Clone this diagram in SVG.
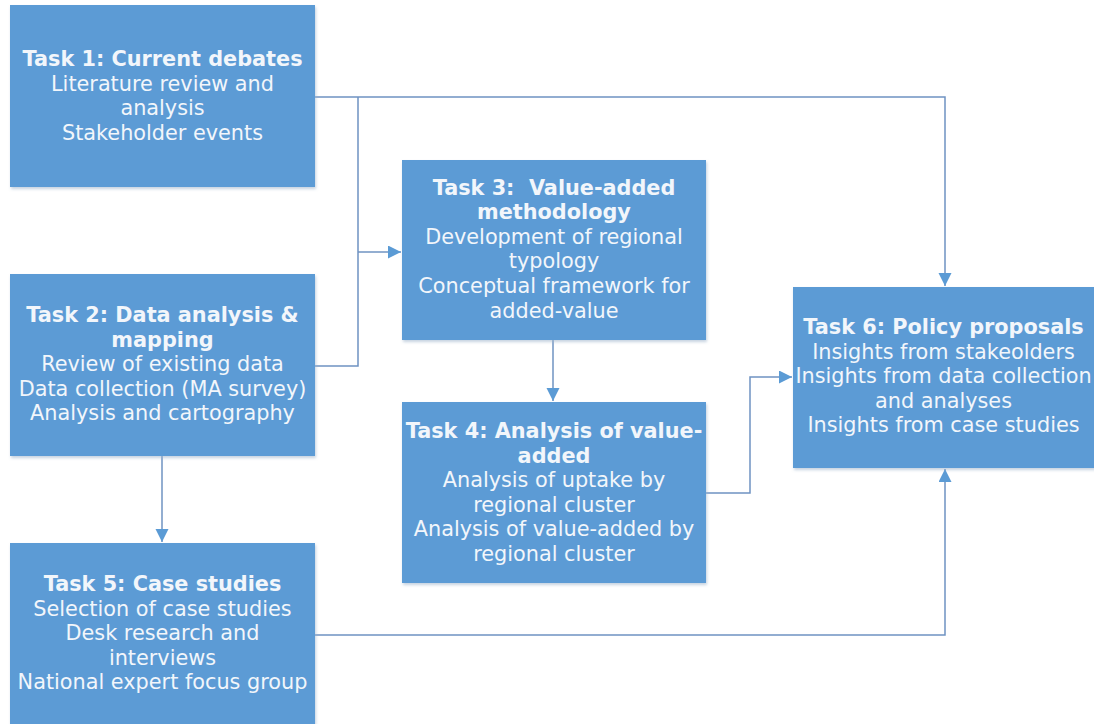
<svg xmlns="http://www.w3.org/2000/svg" width="1094" height="724" viewBox="0 0 1094 724">
<style>
.box{fill:#5B9BD5;}
.t{font-family:"DejaVu Sans",Verdana,sans-serif;font-size:20.8px;fill:#F2F6FB;text-anchor:middle;}
.b{font-weight:bold;}
.c{fill:none;stroke:#6F93C2;stroke-width:1.5;}
</style>
<defs>
<marker id="ah" markerUnits="userSpaceOnUse" markerWidth="14" markerHeight="14" refX="13" refY="6.5" orient="auto">
<path d="M0,0 L13,6.5 L0,13 z" fill="#5B9BD5"/>
</marker>
<filter id="sh" x="-5%" y="-5%" width="112%" height="112%">
<feDropShadow dx="1" dy="2" stdDeviation="1.5" flood-color="#9fb4cc" flood-opacity="0.6"/>
</filter>
</defs>
<rect width="1094" height="724" fill="#FFFFFF"/>
<g id="connectors">
<path class="c" d="M315,97 H945 V286" marker-end="url(#ah)"/>
<path class="c" d="M358,97 V366 H315"/>
<path class="c" d="M358,252 H401" marker-end="url(#ah)"/>
<path class="c" d="M162,456 V542" marker-end="url(#ah)"/>
<path class="c" d="M553,340 V401" marker-end="url(#ah)"/>
<path class="c" d="M706,493 H750 V377 H792" marker-end="url(#ah)"/>
<path class="c" d="M315,635 H945 V469" marker-end="url(#ah)"/>
</g>
<g id="task1">
<rect class="box" x="10" y="5" width="305" height="182" filter="url(#sh)"/>
<text class="t b" x="162.5" y="66">Task 1: Current debates</text>
<text class="t" x="162.5" y="90.6">Literature review and</text>
<text class="t" x="162.5" y="115.2">analysis</text>
<text class="t" x="162.5" y="139.8">Stakeholder events</text>
</g>
<g id="task2">
<rect class="box" x="10" y="274" width="305" height="182" filter="url(#sh)"/>
<text class="t b" x="162.5" y="322">Task 2: Data analysis &amp;</text>
<text class="t b" x="162.5" y="346.6">mapping</text>
<text class="t" x="162.5" y="371.2">Review of existing data</text>
<text class="t" x="162.5" y="395.8">Data collection (MA survey)</text>
<text class="t" x="162.5" y="420.4">Analysis and cartography</text>
</g>
<g id="task3">
<rect class="box" x="402" y="160" width="304" height="180" filter="url(#sh)"/>
<text class="t b" x="554" y="194.5" xml:space="preserve">Task 3:  Value-added</text>
<text class="t b" x="554" y="219.1">methodology</text>
<text class="t" x="554" y="243.7">Development of regional</text>
<text class="t" x="554" y="268.3">typology</text>
<text class="t" x="554" y="292.9">Conceptual framework for</text>
<text class="t" x="554" y="317.5">added-value</text>
</g>
<g id="task4">
<rect class="box" x="402" y="402" width="304" height="181" filter="url(#sh)"/>
<text class="t b" x="554" y="438">Task 4: Analysis of value-</text>
<text class="t b" x="554" y="462.6">added</text>
<text class="t" x="554" y="487.2">Analysis of uptake by</text>
<text class="t" x="554" y="511.8">regional cluster</text>
<text class="t" x="554" y="536.4">Analysis of value-added by</text>
<text class="t" x="554" y="561">regional cluster</text>
</g>
<g id="task5">
<rect class="box" x="10" y="543" width="305" height="185" filter="url(#sh)"/>
<text class="t b" x="162.5" y="591">Task 5: Case studies</text>
<text class="t" x="162.5" y="615.6">Selection of case studies</text>
<text class="t" x="162.5" y="640.2">Desk research and</text>
<text class="t" x="162.5" y="664.8">interviews</text>
<text class="t" x="162.5" y="689.4">National expert focus group</text>
</g>
<g id="task6">
<rect class="box" x="793" y="287" width="305" height="181" filter="url(#sh)"/>
<text class="t b" x="943.5" y="334">Task 6: Policy proposals</text>
<text class="t" x="943.5" y="358.6">Insights from stakeolders</text>
<text class="t" x="943.5" y="383.2">Insights from data collection</text>
<text class="t" x="943.5" y="407.8">and analyses</text>
<text class="t" x="943.5" y="432.4">Insights from case studies</text>
</g>
</svg>
